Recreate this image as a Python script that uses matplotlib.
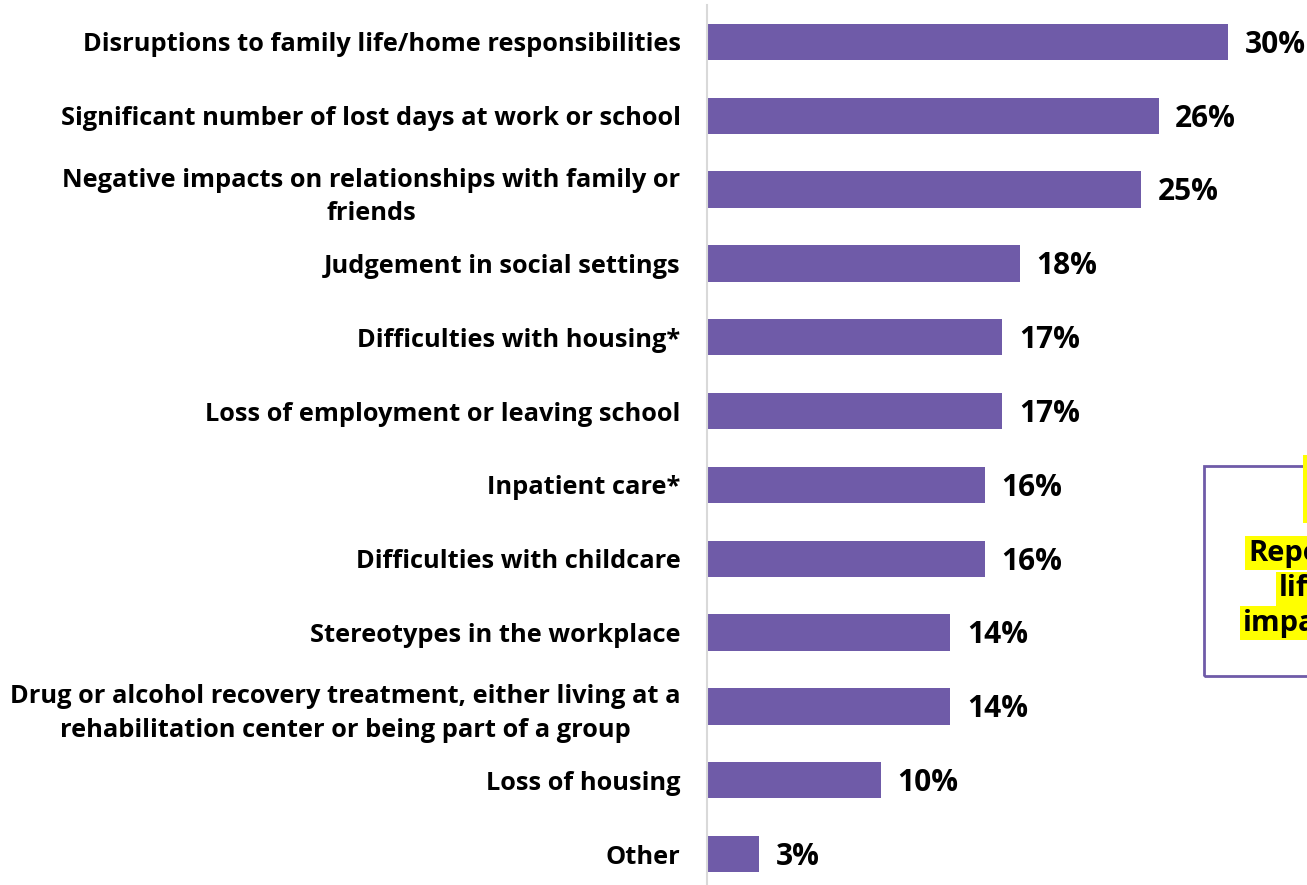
import matplotlib
matplotlib.use("Agg")
import matplotlib.pyplot as plt
from matplotlib.patches import Rectangle

plt.rcParams['font.family'] = ['Open Sans', 'DejaVu Sans']

categories = [
    "Disruptions to family life/home responsibilities",
    "Significant number of lost days at work or school",
    "Negative impacts on relationships with family or\nfriends",
    "Judgement in social settings",
    "Difficulties with housing*",
    "Loss of employment or leaving school",
    "Inpatient care*",
    "Difficulties with childcare",
    "Stereotypes in the workplace",
    "Drug or alcohol recovery treatment, either living at a\nrehabilitation center or being part of a group",
    "Loss of housing",
    "Other",
]
values = [30, 26, 25, 18, 17, 17, 16, 16, 14, 14, 10, 3]
value_labels = ["30%", "26%", "25%", "18%", "17%", "17%", "16%", "16%", "14%", "14%", "10%", "3%"]

W, H = 1307, 885
fig = plt.figure(figsize=(W / 100, H / 100), dpi=100)
fig.patch.set_facecolor("white")

ax = fig.add_axes([707 / W, (H - 891) / H, 600 / W, 886 / H])
ypos = list(range(len(categories)))
ax.barh(ypos, values, height=0.49, color="#6F5BA8")
ax.set_ylim(11.5, -0.5)
ax.set_xlim(0, 600 / 17.37)

for s in ["top", "right", "bottom"]:
    ax.spines[s].set_visible(False)
ax.spines["left"].set_color("#D9D9D9")
ax.spines["left"].set_linewidth(1.5)
ax.set_xticks([])
ax.set_yticks(ypos)
ax.set_yticklabels(categories, fontsize=18.3, fontweight="bold")
ax.tick_params(axis="y", length=0, pad=19)
for t in ax.get_yticklabels():
    t.set_multialignment("center")
    t.set_linespacing(1.45)

for y, v, lab in zip(ypos, values, value_labels):
    ax.annotate(lab, xy=(v, y), xytext=(12, -2), textcoords="offset points",
                ha="left", va="center", fontsize=21.5, fontweight="bold", color="black",
                annotation_clip=False)

# Callout box (partially cut off at the right edge)
fig.patches.append(Rectangle((1204 / W, (H - 676) / H), 200 / W, 210 / H,
                             transform=fig.transFigure, fill=False,
                             edgecolor="#6F5BA8", linewidth=2))
hl = dict(facecolor="#FFFF00", edgecolor="none", pad=2)
fig.text(1306 / W, (H - 489) / H, "61%", fontsize=44, fontweight="bold",
         ha="left", va="center", bbox=hl)
fig.text(1248 / W, (H - 553) / H, "Reported", fontsize=21, fontweight="bold",
         ha="left", va="center", bbox=hl)
fig.text(1279 / W, (H - 589) / H, "life", fontsize=21, fontweight="bold",
         ha="left", va="center", bbox=hl)
fig.text(1243 / W, (H - 623) / H, "impacts", fontsize=21, fontweight="bold",
         ha="left", va="center", bbox=hl)

fig.savefig("out.png", dpi=100)
